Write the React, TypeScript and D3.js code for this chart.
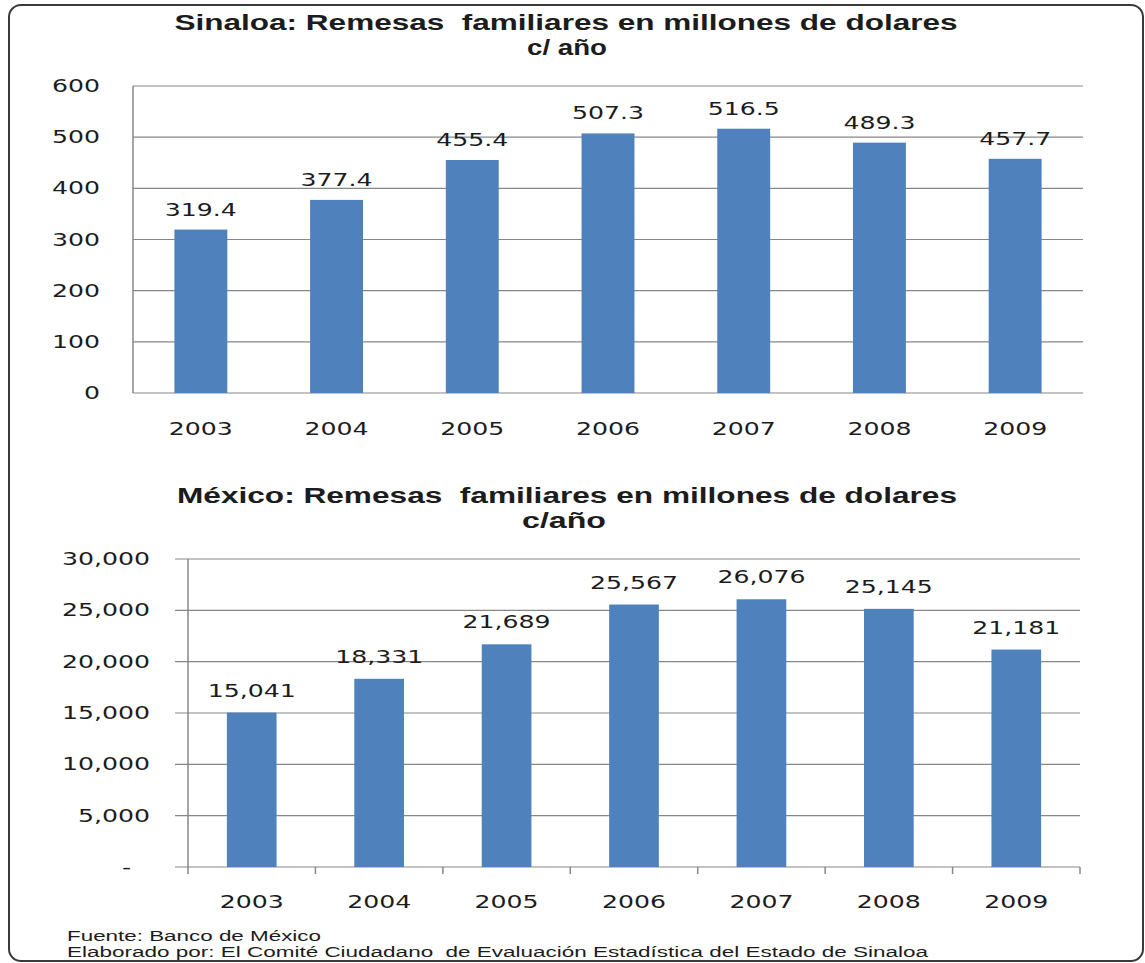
import React from "react";
import * as d3 from "d3";

const years = ["2003", "2004", "2005", "2006", "2007", "2008", "2009"];
const sinaloaValues = [319.4, 377.4, 455.4, 507.3, 516.5, 489.3, 457.7];
const mexicoValues = [15041, 18331, 21689, 25567, 26076, 25145, 21181];
const sinaloaTicks = [0, 100, 200, 300, 400, 500, 600];
const mexicoTicks = [0, 5000, 10000, 15000, 20000, 25000, 30000];
const sinaloaTitle = ["Sinaloa: Remesas  familiares en millones de dolares", "c/ año"];
const mexicoTitle = ["México: Remesas  familiares en millones de dolares", "c/año"];
const footer = [
  "Fuente: Banco de México",
  "Elaborado por: El Comité Ciudadano  de Evaluación Estadística del Estado de Sinaloa",
];

const W = 1145;
const H = 963;
const BAR = "#4F81BD";
const GRID = "#878787";
const TXT = "#1c1c1c";
const VFONT = "'DejaVu Sans', Verdana, sans-serif";
const AFONT = "'Liberation Sans', Arial, sans-serif";
const SX = 1.48;
const PRE = { whiteSpace: "pre" as const };

function T({ x, y, s, anchor = "middle", size = 17, sx = SX, font = VFONT, weight = "normal" }: any) {
  return (
    <text
      transform={`translate(${x},${y}) scale(${sx},1)`}
      textAnchor={anchor}
      fontSize={size}
      fontFamily={font}
      fontWeight={weight}
      fill={TXT}
    >
      {s}
    </text>
  );
}

export default function App() {
  const x1 = d3.scaleBand().domain(years).range([133, 1083]).paddingInner(0.61).paddingOuter(0.305);
  const y1 = d3.scaleLinear().domain([0, 600]).range([393, 86]);
  const x2 = d3.scaleBand().domain(years).range([188, 1080]).paddingInner(0.61).paddingOuter(0.305);
  const y2 = d3.scaleLinear().domain([0, 30000]).range([867, 559]);
  const fmt = d3.format(",");
  const xb2 = d3.scaleBand().domain(years).range([188, 1080]);

  return (
    <svg width={W} height={H} style={{ position: "absolute", left: 0, top: 0, background: "#fff" }}>
      <rect x={0} y={0} width={W} height={H} fill="#fff" />
      <rect x={9} y={5} width={1134} height={956} rx={12} fill="none" stroke="#3a3a3a" strokeWidth={2} />

      <text x={566} y={30} textAnchor="middle" fontFamily={AFONT} fontWeight="bold" fontSize={22} fill={TXT}
        textLength={783} lengthAdjust="spacingAndGlyphs" style={PRE}>{sinaloaTitle[0]}</text>
      <text x={567} y={55} textAnchor="middle" fontFamily={AFONT} fontWeight="bold" fontSize={22} fill={TXT}
        textLength={80} lengthAdjust="spacingAndGlyphs" style={PRE}>{sinaloaTitle[1]}</text>

      {sinaloaTicks.map((t) => (
        <line key={"g1" + t} x1={133} x2={1083} y1={y1(t)} y2={y1(t)} stroke={GRID} strokeWidth={1.2} />
      ))}
      <line x1={133} x2={133} y1={86} y2={393} stroke={GRID} strokeWidth={1.5} />
      {sinaloaTicks.map((t) => (
        <T key={"l1" + t} x={100} y={y1(t) + 6} s={String(t)} anchor="end" />
      ))}
      {years.map((yr, i) => (
        <rect key={"b1" + yr} x={x1(yr)} y={y1(sinaloaValues[i])} width={x1.bandwidth()}
          height={y1(0) - y1(sinaloaValues[i])} fill={BAR} />
      ))}
      {years.map((yr, i) => (
        <T key={"v1" + yr} x={x1(yr)! + x1.bandwidth() / 2} y={y1(sinaloaValues[i]) - 14} s={sinaloaValues[i].toFixed(1)} />
      ))}
      {years.map((yr) => (
        <T key={"x1" + yr} x={x1(yr)! + x1.bandwidth() / 2} y={435} s={yr} />
      ))}

      <text x={567} y={503} textAnchor="middle" fontFamily={AFONT} fontWeight="bold" fontSize={22} fill={TXT}
        textLength={780} lengthAdjust="spacingAndGlyphs" style={PRE}>{mexicoTitle[0]}</text>
      <text x={564} y={528} textAnchor="middle" fontFamily={AFONT} fontWeight="bold" fontSize={22} fill={TXT}
        textLength={84} lengthAdjust="spacingAndGlyphs" style={PRE}>{mexicoTitle[1]}</text>

      {mexicoTicks.map((t) => (
        <line key={"g2" + t} x1={175} x2={1080} y1={y2(t)} y2={y2(t)} stroke={GRID} strokeWidth={1.2} />
      ))}
      <line x1={188} x2={188} y1={559} y2={874} stroke={GRID} strokeWidth={1.5} />
      {years.map((yr) => (
        <line key={"tk" + yr} x1={xb2(yr)! + xb2.bandwidth()} x2={xb2(yr)! + xb2.bandwidth()} y1={867} y2={874}
          stroke={GRID} strokeWidth={1.5} />
      ))}
      {mexicoTicks.map((t) => (
        <T key={"l2" + t} x={t === 0 ? 131 : 150} y={y2(t) + 6} s={t === 0 ? "-" : fmt(t)} anchor="end" />
      ))}
      {years.map((yr, i) => (
        <rect key={"b2" + yr} x={x2(yr)} y={y2(mexicoValues[i])} width={x2.bandwidth()}
          height={y2(0) - y2(mexicoValues[i])} fill={BAR} />
      ))}
      {years.map((yr, i) => (
        <T key={"v2" + yr} x={x2(yr)! + x2.bandwidth() / 2} y={y2(mexicoValues[i]) - 16} s={fmt(mexicoValues[i])} />
      ))}
      {years.map((yr) => (
        <T key={"x2" + yr} x={x2(yr)! + x2.bandwidth() / 2} y={908} s={yr} />
      ))}

      <text x={67} y={941} fontFamily={AFONT} fontSize={14} fill={TXT} textLength={254} lengthAdjust="spacingAndGlyphs" style={PRE}>
        {footer[0]}
      </text>
      <text x={67} y={957} fontFamily={AFONT} fontSize={14} fill={TXT} textLength={861} lengthAdjust="spacingAndGlyphs" style={PRE}>
        {footer[1]}
      </text>
    </svg>
  );
}
